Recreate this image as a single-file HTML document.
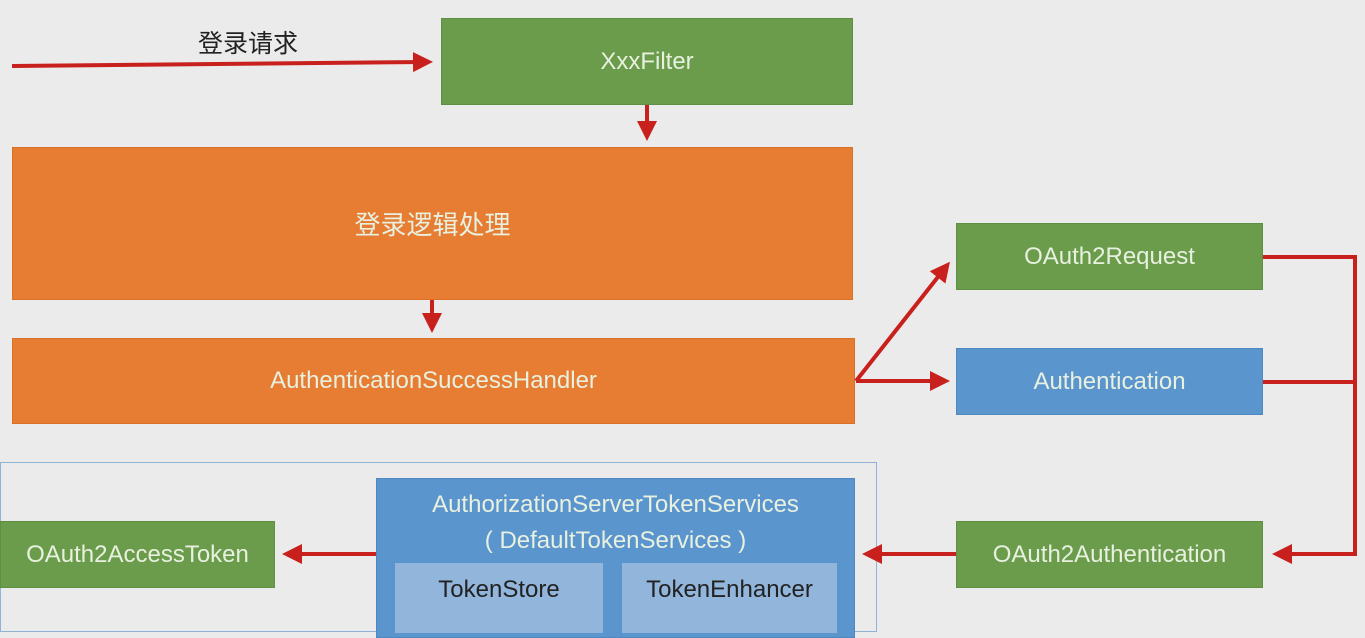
<!DOCTYPE html>
<html><head><meta charset="utf-8"><style>
body{margin:0;width:1365px;height:619px;background:#ebebeb;overflow:hidden;position:relative;font-family:"Liberation Sans","Noto Sans CJK SC",sans-serif}
.b{position:absolute;display:flex;align-items:center;justify-content:center;color:#e8f0e0;font-size:24px;box-sizing:border-box}
.g{background:#6a9c4b;border:1px solid #5f8f42}
.o{background:#e67d33;border:1px solid #d87028}
.bl{background:#5b95cd;border:1px solid #4f88c0}
</style></head><body>
<div style="position:absolute;left:0;top:462px;width:877px;height:170px;border:1px solid #8fb2d6;box-sizing:border-box"></div>
<div class="b g" style="left:441px;top:18px;width:412px;height:87px">XxxFilter</div>
<div class="b o" style="left:12px;top:147px;width:841px;height:153px;font-size:26px">登录逻辑处理</div>
<div class="b o" style="left:12px;top:338px;width:843px;height:86px">AuthenticationSuccessHandler</div>
<div class="b g" style="left:956px;top:223px;width:307px;height:67px">OAuth2Request</div>
<div class="b bl" style="left:956px;top:348px;width:307px;height:67px">Authentication</div>
<div class="b g" style="left:956px;top:521px;width:307px;height:67px">OAuth2Authentication</div>
<div class="b g" style="left:0;top:521px;width:275px;height:67px">OAuth2AccessToken</div>
<div class="b bl" style="left:376px;top:478px;width:479px;height:160px;align-items:flex-start;padding-top:8px;line-height:36px;text-align:center">AuthorizationServerTokenServices<br>( DefaultTokenServices )</div>
<div class="b" style="left:395px;top:563px;width:208px;height:70px;background:#92b5dc;color:#222;align-items:flex-start;padding-top:13px">TokenStore</div>
<div class="b" style="left:622px;top:563px;width:215px;height:70px;background:#92b5dc;color:#222;align-items:flex-start;padding-top:13px">TokenEnhancer</div>
<div style="position:absolute;left:198px;top:24px;font-size:25px;color:#222">登录请求</div>
<svg width="1365" height="619" style="position:absolute;left:0;top:0">
<defs><marker id="a" markerWidth="5" markerHeight="5" refX="3" refY="2.5" orient="auto" markerUnits="strokeWidth"><path d="M0,0L5,2.5L0,5z" fill="#c8201c"/></marker></defs>
<g stroke="#c8201c" stroke-width="4" fill="none">
<path d="M12,66L425,62" marker-end="url(#a)"/>
<path d="M647,105V133" marker-end="url(#a)"/>
<path d="M432,300V325" marker-end="url(#a)"/>
<path d="M856,381L945,268" marker-end="url(#a)"/>
<path d="M856,381H942" marker-end="url(#a)"/>
<path d="M1263,257H1355V554H1280" marker-end="url(#a)"/>
<path d="M1263,382H1355"/>
<path d="M956,554H870" marker-end="url(#a)"/>
<path d="M376,554H290" marker-end="url(#a)"/>
</g></svg>
</body></html>
